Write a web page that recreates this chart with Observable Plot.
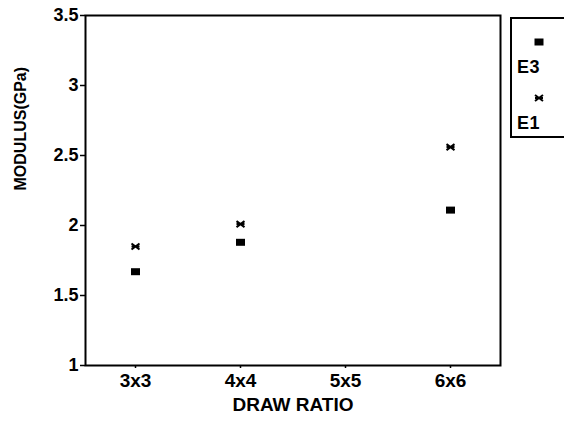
<!DOCTYPE html>
<html>
<head>
<meta charset="utf-8">
<script src="https://cdn.jsdelivr.net/npm/d3@7"></script>
<script src="https://cdn.jsdelivr.net/npm/@observablehq/plot@0.6"></script>
<style>
  html, body { margin: 0; padding: 0; background: #fff; }
  #wrap { position: relative; width: 564px; height: 425px; font-family: "Liberation Sans", Arial, sans-serif; font-weight: bold; }
  #legend { position: absolute; left: 510px; top: 17px; width: 60px; height: 121px; border: 2px solid #000; box-sizing: border-box; background: #fff; }
  #legend .item { position: absolute; left: 5px; font-size: 18px; color: #000; line-height: 1; letter-spacing: 0.5px; }
  #legend svg { position: absolute; }
</style>
</head>
<body>
<div id="wrap"></div>
<script>
const ratios = ["3x3", "4x4", "5x5", "6x6"];
const seriesNames = ["E3", "E1"];
const e3Ratios = ["3x3", "4x4", "6x6"];
const e3Values = [1.67, 1.88, 2.11];
const e1Ratios = ["3x3", "4x4", "6x6"];
const e1Values = [1.85, 2.01, 2.56];
const yTicks = [1, 1.5, 2, 2.5, 3, 3.5];

const rectSymbol = { draw(ctx, size) { ctx.rect(-4.5, -3.5, 9, 7); } };
const starSymbol = { draw(ctx, size) {
  ctx.moveTo(-4, -3); ctx.lineTo(4, 3);
  ctx.moveTo(-4, 3); ctx.lineTo(4, -3);
  ctx.moveTo(-4, 0); ctx.lineTo(4, 0);
} };

const e3 = e3Ratios.map((r, i) => ({ratio: r, value: e3Values[i]}));
const e1 = e1Ratios.map((r, i) => ({ratio: r, value: e1Values[i]}));

const chart = Plot.plot({
  width: 564,
  height: 425,
  marginLeft: 85,
  marginRight: 64,
  marginTop: 15,
  marginBottom: 60,
  style: { fontFamily: "Liberation Sans, Arial, sans-serif", fontWeight: "bold", fontSize: "15px", color: "#000", background: "#fff" },
  x: { type: "point", domain: ratios, padding: 0.465, label: null, axis: null },
  y: { domain: [1, 3.5], label: null, axis: null },
  marks: [
    Plot.frame({ stroke: "#000", strokeWidth: 2 }),
    Plot.axisY({ ticks: yTicks, tickFormat: () => "", tickSize: 5, label: null, strokeWidth: 1.5 }),
    Plot.axisX({ tickFormat: () => "", tickSize: 3, label: null, strokeWidth: 1.5 }),
    Plot.text(yTicks, { y: d => d, text: d => String(d), frameAnchor: "left", textAnchor: "end", dx: -7, fontSize: 18, fontWeight: "bold" }),
    Plot.text(ratios, { x: d => d, text: d => d, frameAnchor: "bottom", lineAnchor: "top", dy: 8, fontSize: 19, fontWeight: "bold" }),
    Plot.text(["MODULUS(GPa)"], { frameAnchor: "left", dx: -65, rotate: -90, fontSize: 16, fontWeight: "bold" }),
    Plot.text(["DRAW RATIO"], { frameAnchor: "bottom", dy: 45, fontSize: 19, fontWeight: "bold" }),
    Plot.dot(e3, { x: "ratio", y: "value", symbol: rectSymbol, fill: "#000", stroke: "none" }),
    Plot.dot(e1, { x: "ratio", y: "value", symbol: starSymbol, fill: "none", stroke: "#000", strokeWidth: 2 })
  ]
});

const wrap = document.getElementById("wrap");
wrap.appendChild(chart);

// Legend (right side)
const legend = document.createElement("div");
legend.id = "legend";
wrap.appendChild(legend);
const legendSymbols = [rectSymbol, starSymbol];
seriesNames.forEach((name, i) => {
  const top = 17 + i * 56;
  const s = d3.create("svg").attr("width", 14).attr("height", 12)
    .style("left", "20px").style("top", top + "px");
  const p = s.append("path").attr("transform", "translate(7,6)")
    .attr("d", d3.symbol(legendSymbols[i])());
  if (i === 0) p.attr("fill", "#000");
  else p.attr("fill", "none").attr("stroke", "#000").attr("stroke-width", 2);
  legend.appendChild(s.node());
  const t = document.createElement("div");
  t.className = "item";
  t.style.top = (top + 22) + "px";
  t.textContent = name;
  legend.appendChild(t);
});
</script>
</body>
</html>
